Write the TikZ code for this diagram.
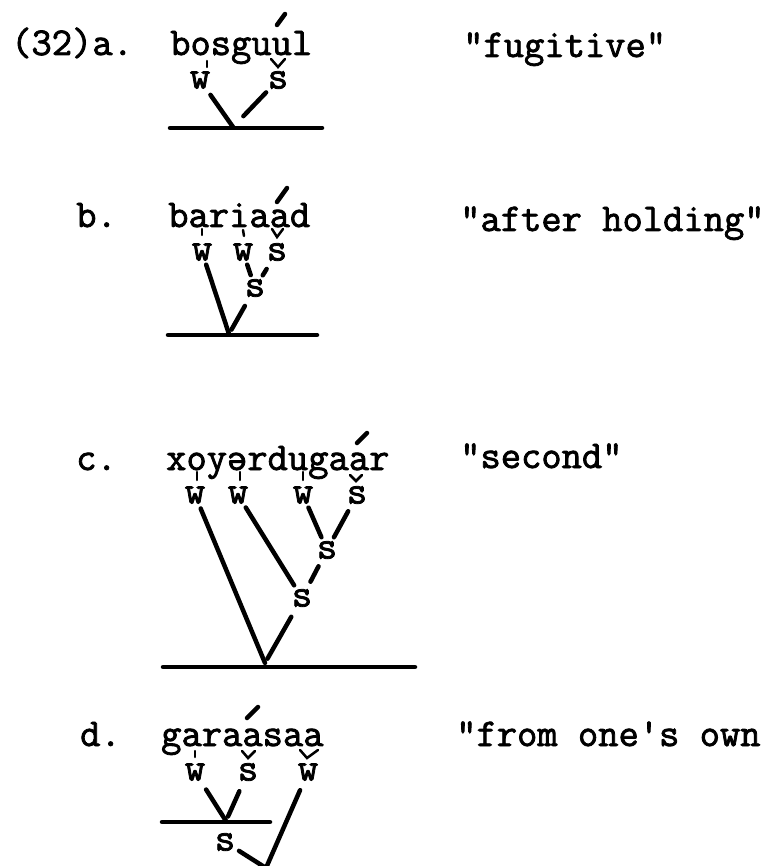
\documentclass[tikz,border=0pt]{standalone}
\usepackage{fontspec}
\newfontfamily\typer{Latin Modern Mono}[FakeBold=2]

\begin{document}
\begin{tikzpicture}[x=1pt, y=-1pt, line cap=round,
  txt/.style={font=\typer\fontsize{39.4}{39.4}\selectfont, anchor=base west, inner sep=0pt},
  lbl/.style={font=\typer\fontsize{39.4}{39.4}\selectfont, inner sep=2pt},
  branch/.style={line width=4.5pt},
  bar/.style={line width=4.5pt},
  stress/.style={line width=2.5pt},
  acute/.style={line width=4.5pt}]
  \useasboundingbox (0,0) rectangle (772,866);

  % (32a) bosguul
  \node[txt] (anum) at (11,55) {(32)a.};
  \node[txt] (aword) at (170,55) {bosguul};
  \node[txt] (agloss) at (463,57) {"fugitive"};
  \draw[acute] (277,25) -- (285,14);
  \node[lbl] (aw) at (200,80) {w};
  \node[lbl] (as) at (278,80) {s};
  \draw[stress] (207,61) -- (207,67);
  \draw[stress] (271,59) -- (278,67) -- (285,59);
  \coordinate (aj) at (233,127);
  \draw[branch, shorten <=5pt] (aw) -- (aj);
  \draw[branch, shorten <=2pt, shorten >=15pt] (as) -- (aj);
  \draw[bar] (170,128) -- (322,128);

  % (32b) bariaad
  \node[txt] (bnum) at (76,227) {b.};
  \node[txt] (bword) at (168,227) {bariaad};
  \node[txt] (bgloss) at (460,231) {"after holding"};
  \draw[acute] (277,202) -- (287,188);
  \node[lbl] (bw1) at (202,252) {w};
  \node[lbl] (bw2) at (243,252) {w};
  \node[lbl] (bs1) at (277,252) {s};
  \node[lbl] (bs2) at (255,288) {s};
  \draw[stress] (202,229) -- (202,235);
  \draw[stress] (243,230) -- (244,236);
  \draw[stress] (272,229) -- (277,237) -- (283,229);
  \coordinate (bj) at (229,334);
  \draw[branch, shorten <=2pt] (bw1) -- (bj);
  \draw[branch, shorten <=2pt, shorten >=2pt] (bw2) -- (bs2);
  \draw[branch, shorten <=7pt, shorten >=2pt] (bs1) -- (bs2);
  \draw[branch, shorten <=8pt, shorten >=5pt] (bs2) -- (bj);
  \draw[bar] (168,335) -- (317,335);

  % (32c) xoyərdugaar
  \node[txt] (cnum) at (76,470) {c.};
  \node[txt] (cword) at (166,470) {xoyərdugaar};
  \node[txt] (cgloss) at (460,468) {"second"};
  \draw[acute] (357,443) -- (367,433);
  \node[lbl] (cw1) at (195,495) {w};
  \node[lbl] (cw2) at (238,495) {w};
  \node[lbl] (cw3) at (303,495) {w};
  \node[lbl] (cs1) at (357,495) {s};
  \node[lbl] (cs2) at (327,550) {s};
  \node[lbl] (cs3) at (302,598) {s};
  \draw[stress] (197,472) -- (197,480);
  \draw[stress] (240,472) -- (240,480);
  \draw[stress] (303,472) -- (303,480);
  \draw[stress] (350,475) -- (356,481) -- (362,475);
  \coordinate (cj) at (265,663);
  \draw[branch, shorten <=3pt] (cw1) -- (cj);
  \draw[branch, shorten <=2pt, shorten >=2pt] (cw2) -- (cs3);
  \draw[branch, shorten <=2pt, shorten >=2pt] (cw3) -- (cs2);
  \draw[branch, shorten <=6pt, shorten >=2pt] (cs1) -- (cs2);
  \draw[branch, shorten <=6pt, shorten >=6pt] (cs2) -- (cs3);
  \draw[branch, shorten <=9pt, shorten >=5pt] (cs3) -- (cj);
  \draw[bar] (163,667) -- (415,667);

  % (32d) garaasaa
  \node[txt] (dnum) at (80,746) {d.};
  \node[txt] (dword) at (161,746) {garaasaa};
  \node[txt] (dgloss) at (456,746) {"from one's own};
  \draw[acute] (247,718) -- (258,707);
  \node[lbl] (dw1) at (195,772) {w};
  \node[lbl] (ds1) at (248,772) {s};
  \node[lbl] (dw2) at (308,772) {w};
  \node[lbl] (ds2) at (225,842) {s};
  \draw[stress] (195,751) -- (195,757);
  \draw[stress] (242,751) -- (248,758) -- (255,751);
  \draw[stress] (300,750) -- (307,758) -- (318,750);
  \coordinate (dj) at (226,821);
  \coordinate (dbot) at (266,868);
  \draw[branch, shorten <=8pt] (dw1) -- (dj);
  \draw[branch, shorten <=9pt, shorten >=5pt] (ds1) -- (dj);
  \draw[branch, shorten <=8pt] (dw2) -- (dbot);
  \draw[branch, shorten <=2pt] (ds2) -- (dbot);
  \draw[bar] (162,822) -- (270,822);
\end{tikzpicture}
\end{document}
